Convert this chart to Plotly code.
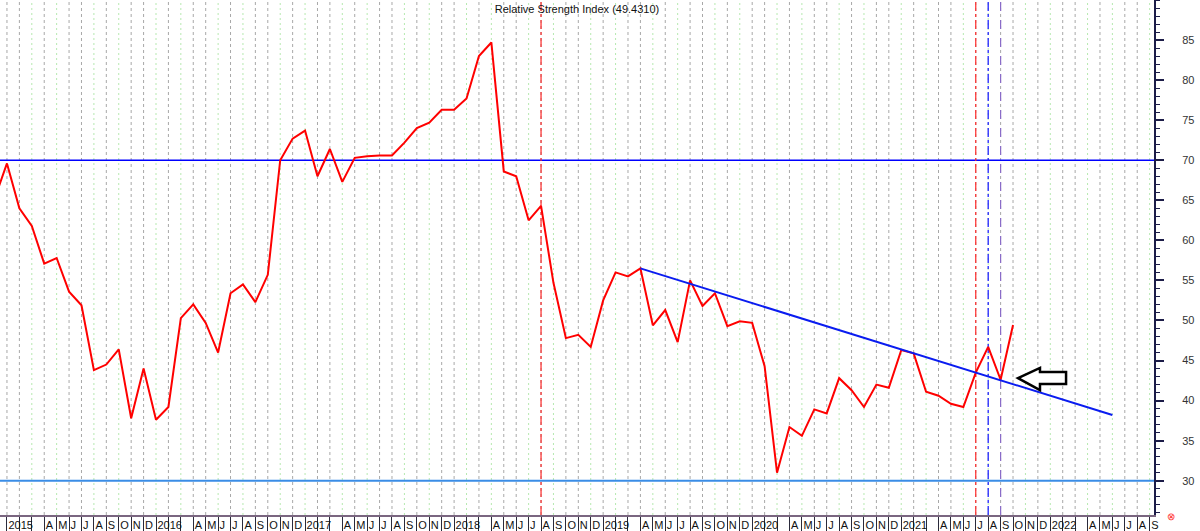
import plotly.graph_objects as go

# ---------------- data ----------------
FIRST_MONTH = (2014, 12)          # month of the first RSI value
AXIS_FIRST = (2014, 12)           # first labelled month on the axis
AXIS_LAST = (2022, 9)             # last labelled month on the axis

RSI = [
    65.2,                                                             # Dec 2014
    69.6, 64.0, 61.8, 57.1, 57.8, 53.6, 51.9, 43.8, 44.5, 46.4, 37.8, 44.0,  # 2015
    37.6, 39.2, 50.3, 52.0, 49.7, 46.0, 53.4, 54.5, 52.3, 55.7, 70.0, 72.7,  # 2016
    73.7, 68.0, 71.4, 67.3, 70.3, 70.5, 70.6, 70.6, 72.2, 74.0, 74.7, 76.3,  # 2017
    76.3, 77.7, 83.0, 84.7, 68.6, 68.0, 62.5, 64.3, 54.7, 47.8, 48.2, 46.7,  # 2018
    52.5, 56.0, 55.5, 56.5, 49.4, 51.3, 47.3, 55.0, 51.8, 53.4, 49.3, 49.9,  # 2019
    49.7, 44.3, 31.0, 36.7, 35.6, 38.9, 38.4, 42.8, 41.3, 39.2, 42.0, 41.6,  # 2020
    46.3, 45.9, 41.1, 40.6, 39.6, 39.2, 43.5, 46.7, 42.6, 49.43,             # 2021
]
LAST_VALUE = "49.4310"

MONTH_LETTERS = ["", "", "", "A", "M", "J", "J", "A", "S", "O", "N", "D"]

OVERBOUGHT = 70
OVERSOLD = 30

TREND_MONTHS = [(2019, 4), (2022, 6)]
TREND_VALUES = [56.5, 38.2]

MARKER_MONTHS = [(2018, 8), (2021, 7), (2021, 8), (2021, 9)]
MARKER_COLORS = ["#ff2a2a", "#ff2a2a", "#1010ff", "#8a6cc8"]
MARKER_DASHES = ["dashdot", "dashdot", "dashdot", "dash"]

# arrow (month-index offsets relative to Oct 2021, RSI values)
ARROW_X = [0.4, 2.17, 2.17, 4.27, 4.27, 2.17, 2.17]
ARROW_Y = [42.8, 44.07, 43.57, 43.57, 42.07, 42.07, 41.3]
ARROW_BASE = (2021, 10)

X_RANGE = [-0.56, 92.35]
Y_RANGE = [25.72, 90.0]


def idx(ym):
    y, m = ym
    return (y - 2015) * 12 + (m - 1)


first = idx(FIRST_MONTH)
x_rsi = [first + i for i in range(len(RSI))]

axis_months = list(range(idx(AXIS_FIRST), idx(AXIS_LAST) + 1))
tick_text = []
for m in axis_months:
    cm = m % 12
    year = 2015 + m // 12
    tick_text.append(str(year) if cm == 0 else MONTH_LETTERS[cm])

fig = go.Figure()

shapes = []
# monthly vertical grid (gray dashed / green dotted)
for m in axis_months:
    green = (m % 5) in (2, 4)
    shapes.append(dict(
        type="line", xref="x", yref="paper", x0=m, x1=m, y0=0, y1=1,
        line=dict(color="#b6e9b0" if green else "#a8a8a8", width=1,
                  dash="2px,3px" if green else "3px,3px"),
        layer="below"))

# overbought / oversold
shapes.append(dict(type="line", xref="paper", yref="y", x0=0, x1=1,
                   y0=OVERBOUGHT, y1=OVERBOUGHT,
                   line=dict(color="#0000ff", width=1.6), layer="below"))
shapes.append(dict(type="line", xref="paper", yref="y", x0=0, x1=1,
                   y0=OVERSOLD, y1=OVERSOLD,
                   line=dict(color="#3a8de6", width=2), layer="below"))

# vertical marker lines
for ym, c, d in zip(MARKER_MONTHS, MARKER_COLORS, MARKER_DASHES):
    m = idx(ym)
    shapes.append(dict(type="line", xref="x", yref="paper", x0=m, x1=m,
                       y0=0, y1=1, line=dict(color=c, width=1.2, dash=d),
                       layer="below"))

# arrow
b = idx(ARROW_BASE)
path = "M " + " L ".join(f"{b + ax} {ay}" for ax, ay in zip(ARROW_X, ARROW_Y)) + " Z"
shapes.append(dict(type="path", xref="x", yref="y", path=path,
                   fillcolor="white", line=dict(color="black", width=2.5),
                   layer="above"))

fig.add_trace(go.Scatter(x=x_rsi, y=RSI, mode="lines",
                         line=dict(color="#ff0000", width=2),
                         showlegend=False, hoverinfo="skip"))
fig.add_trace(go.Scatter(x=[idx(t) for t in TREND_MONTHS], y=TREND_VALUES,
                         mode="lines", line=dict(color="#0a1cf0", width=2),
                         showlegend=False, hoverinfo="skip"))

fig.update_layout(
    width=1200, height=531,
    margin=dict(l=0, r=46, t=0, b=16),
    paper_bgcolor="white", plot_bgcolor="white",
    showlegend=False,
    shapes=shapes,
    title=dict(text=f"Relative Strength Index ({LAST_VALUE})",
               x=0.5, xref="paper", xanchor="center",
               y=0.99, yref="container", yanchor="top",
               pad=dict(t=0, b=0, l=0, r=0),
               font=dict(family="Liberation Sans", size=11, color="#111111")),
    font=dict(family="Liberation Sans", size=11, color="#222222"),
    xaxis=dict(
        range=X_RANGE, showgrid=False, zeroline=False, automargin=False,
        tickmode="array", tickvals=axis_months, ticktext=tick_text,
        tickangle=0, ticks="outside", ticklen=15, tickwidth=1,
        tickcolor="#2a2a3a", ticklabelposition="outside right",
        ticklabelstandoff=-1,
        tickfont=dict(family="Liberation Sans", size=11, color="#111111"),
        showline=True, linecolor="#7a6680", linewidth=2,
        fixedrange=True,
    ),
    yaxis=dict(
        range=Y_RANGE, side="right", showgrid=False, zeroline=False,
        automargin=False,
        tickmode="array", tickvals=list(range(30, 90, 5)),
        ticks="outside", ticklen=8, tickwidth=1.5, tickcolor="#1c1c48",
        ticklabelstandoff=16,
        tickfont=dict(family="Liberation Sans", size=11, color="#333333"),
        showline=True, linecolor="#1c1c48", linewidth=2,
        minor=dict(tickmode="array", tickvals=list(range(26, 91)),
                   ticks="outside", ticklen=4, tickcolor="#1c1c48",
                   tickwidth=1, showgrid=False),
        fixedrange=True,
    ),
)

fig.add_annotation(text="⊗", xref="paper", yref="paper", x=1.02, y=0,
                   yshift=-9, showarrow=False,
                   font=dict(color="#ff3030", size=10))

fig.write_html("out.html",
               config={"displayModeBar": False},
               post_script="document.body.style.margin='0px';"
                           "document.body.style.overflow='hidden';")
